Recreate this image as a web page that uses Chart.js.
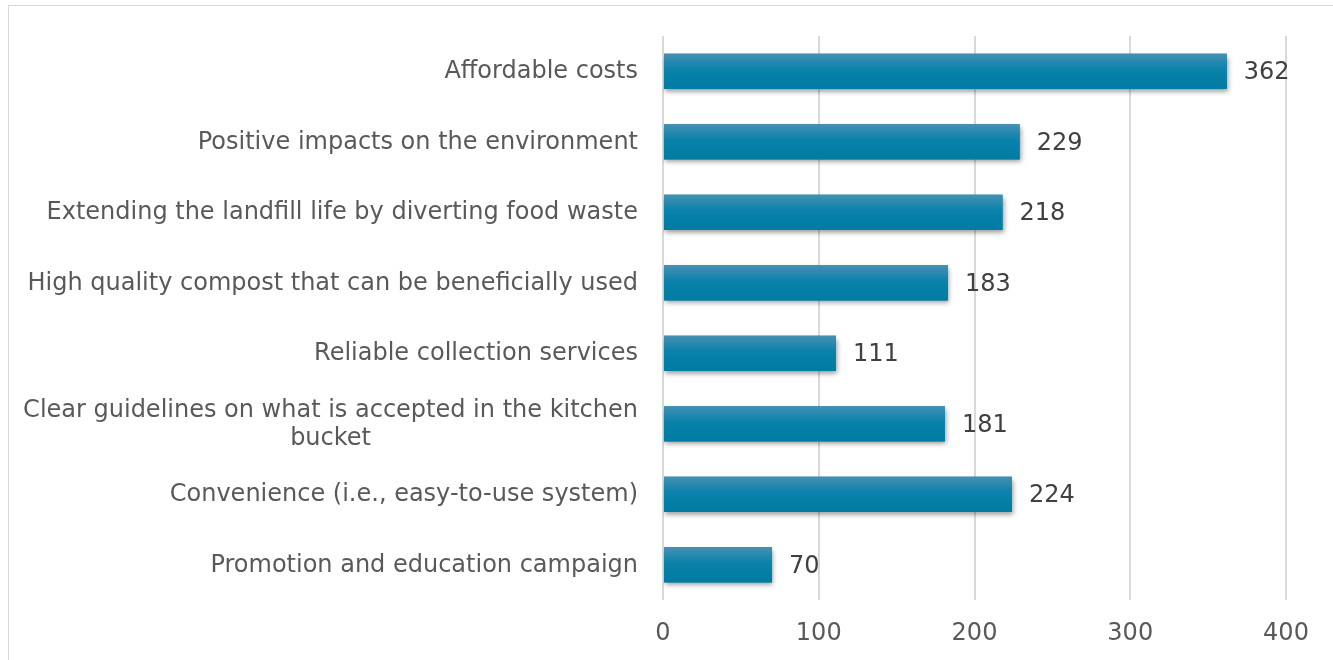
<!DOCTYPE html>
<html>
<head>
<meta charset="utf-8">
<script src="https://cdn.jsdelivr.net/npm/chart.js@4"></script>
<style>
  body { margin: 0; background: #fff; }
  #frame { position: absolute; left: 8px; top: 5px; width: 1400px; height: 700px; border: 1px solid #d9d9d9; }
  #wrap { position: absolute; left: 0; top: 0; width: 1333px; height: 660px; }
</style>
</head>
<body>
<div id="frame"></div>
<div id="wrap"><canvas id="myChart" width="1333" height="660"></canvas></div>
<script>
const categories = [
    'Affordable costs',
    'Positive impacts on the environment',
    'Extending the landfill life by diverting food waste',
    'High quality compost that can be beneficially used',
    'Reliable collection services',
    ['Clear guidelines on what is accepted in the kitchen', 'bucket'],
    'Convenience (i.e., easy-to-use system)',
    'Promotion and education campaign'
];
const counts = [362, 229, 218, 183, 111, 181, 224, 70];
const xTicks = [0, 100, 200, 300, 400];

const FONT = '"DejaVu Sans", Verdana, sans-serif';
const FONT_SIZE = 24;

// bar look: shadow under the bars, then a vertical gradient on top
const barLook = {
    id: 'barLook',
    beforeDatasetsDraw(chart) {
        const ctx = chart.ctx;
        ctx.save();
        ctx.shadowColor = 'rgba(0,0,0,0.4)';
        ctx.shadowBlur = 5;
        ctx.shadowOffsetX = 1;
        ctx.shadowOffsetY = 3;
    },
    afterDatasetsDraw(chart) {
        const ctx = chart.ctx;
        ctx.restore();
        const meta = chart.getDatasetMeta(0);
        ctx.save();
        meta.data.forEach((bar, i) => {
            const top = bar.y - bar.height / 2;
            const g = ctx.createLinearGradient(0, top, 0, top + bar.height);
            g.addColorStop(0, '#4690b2');
            g.addColorStop(0.45, '#0a82ab');
            g.addColorStop(1, '#007ba2');
            ctx.fillStyle = g;
            ctx.fillRect(bar.base, top, bar.x - bar.base, bar.height);
            // value label
            ctx.fillStyle = '#404040';
            ctx.font = FONT_SIZE + 'px ' + FONT;
            ctx.textAlign = 'left';
            ctx.textBaseline = 'middle';
            ctx.fillText(counts[i], bar.x + 17, bar.y + 2);
        });
        ctx.restore();
    }
};

// category labels, right aligned, wrapped lines centered like the original
const catLabels = {
    id: 'catLabels',
    afterDraw(chart) {
        const ctx = chart.ctx;
        const y = chart.scales.y;
        const right = chart.chartArea.left - 25;
        ctx.save();
        ctx.font = FONT_SIZE + 'px ' + FONT;
        ctx.fillStyle = '#595959';
        ctx.textBaseline = 'middle';
        ctx.textAlign = 'center';
        const lineH = 28;
        categories.forEach((lab, i) => {
            const lines = Array.isArray(lab) ? lab : [lab];
            const w = Math.max(...lines.map(l => ctx.measureText(l).width));
            const cx = right - w / 2;
            const cy = y.getPixelForTick(i) + 1;
            const start = cy - (lines.length - 1) * lineH / 2;
            lines.forEach((l, k) => ctx.fillText(l, cx, start + k * lineH));
        });
        ctx.restore();
    }
};

const ctx = document.getElementById('myChart').getContext('2d');
const myChart = new Chart(ctx, {
    type: 'bar',
    data: {
        labels: categories,
        datasets: [{
            data: counts,
            backgroundColor: '#0a82ab',
            categoryPercentage: 1.0,
            barPercentage: 0.5
        }]
    },
    options: {
        indexAxis: 'y',
        responsive: false,
        animation: false,
        layout: { padding: { top: 36, right: 47, left: 0, bottom: 0 } },
        plugins: { legend: { display: false }, tooltip: { enabled: false } },
        scales: {
            x: {
                min: 0,
                max: 400,
                afterBuildTicks: (scale) => { scale.ticks = xTicks.map(v => ({ value: v })); },
                grid: { color: '#d9d9d9', lineWidth: 2, drawTicks: false },
                border: { display: false },
                ticks: { color: '#595959', font: { family: FONT, size: FONT_SIZE }, padding: 19 },
                afterFit: (scale) => { scale.height = 60; }
            },
            y: {
                grid: { display: false },
                border: { display: false },
                ticks: { color: 'rgba(0,0,0,0)', font: { family: FONT, size: FONT_SIZE } },
                afterFit: (scale) => { scale.width = 663; }
            }
        }
    },
    plugins: [barLook, catLabels]
});
</script>
</body>
</html>
